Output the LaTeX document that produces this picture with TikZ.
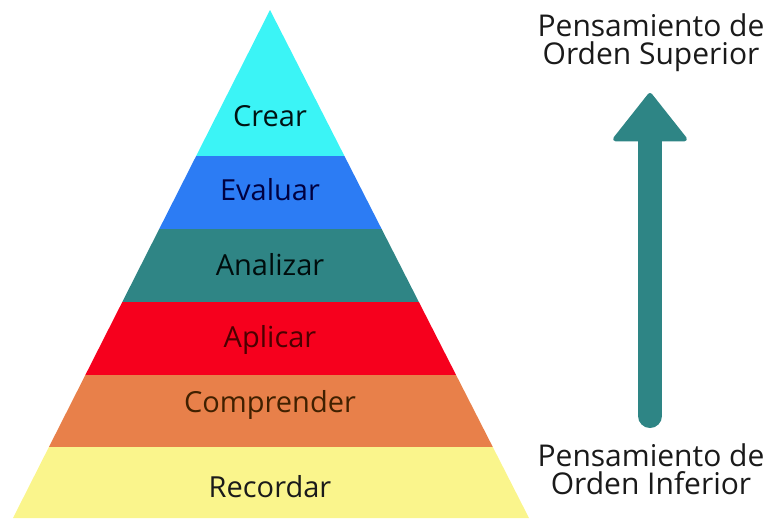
\documentclass[tikz,border=0pt]{standalone}
\usepackage{fontspec}
\setmainfont{Open Sans}
\usetikzlibrary{arrows.meta}
\definecolor{crearcol}{HTML}{3BF4F6}
\definecolor{evalcol}{HTML}{2C7CF4}
\definecolor{analcol}{HTML}{2F8585}
\definecolor{aplicol}{HTML}{F6001D}
\definecolor{compcol}{HTML}{E8804A}
\definecolor{recocol}{HTML}{FAF58C}
\definecolor{arrowcol}{HTML}{2E8585}
\definecolor{darktext}{HTML}{1A1A1A}
\begin{document}
\begin{tikzpicture}
	[x=1pt, y=-1pt,
	level/.style ={anchor=base, font=\fontsize{29}{29}\selectfont},
	side/.style ={align=center, anchor=base, font=\fontsize{30}{28}\selectfont, text=darktext},
	uparrow/.style ={draw=arrowcol, line width=24pt, line cap=round,
		-{Triangle[width=78pt, length=50pt, line width=5pt, round]}}]
	\useasboundingbox (0,0) rectangle (769,523);
	% pyramid
	\coordinate (apex) at (270,10);
	\coordinate (bl) at (13,518);
	\coordinate (br) at (529,518);
	\begin{scope}
		\clip (apex) -- (bl) -- (br) -- cycle;
		\foreach \top/\bot/\col in {0/156/crearcol, 156/229/evalcol, 229/302/analcol,
			302/375/aplicol, 375/447/compcol, 447/523/recocol}
			\fill[\col] (0,\top) rectangle (560,\bot);
	\end{scope}
	\node[level, text=black!85!teal] (crear) at (270,126) {Crear};
	\node[level, text=blue!25!black] (evaluar) at (270,200) {Evaluar};
	\node[level, text=black!90!teal] (analizar) at (270,275) {Analizar};
	\node[level, text=red!30!black] (aplicar) at (270,347) {Aplicar};
	\node[level, text=orange!25!black] (comprender) at (270,412) {Comprender};
	\node[level, text=darktext] (recordar) at (270,497) {Recordar};
	% arrow
	\node[side] (superior) at (651,64) {Pensamiento de\\Orden Superior};
	\node[side] (inferior) at (651,494) {Pensamiento de\\Orden Inferior};
	\coordinate (low) at (650,416);
	\coordinate (high) at (650,93);
	\draw[uparrow] (low) -- (high);
\end{tikzpicture}
\end{document}
